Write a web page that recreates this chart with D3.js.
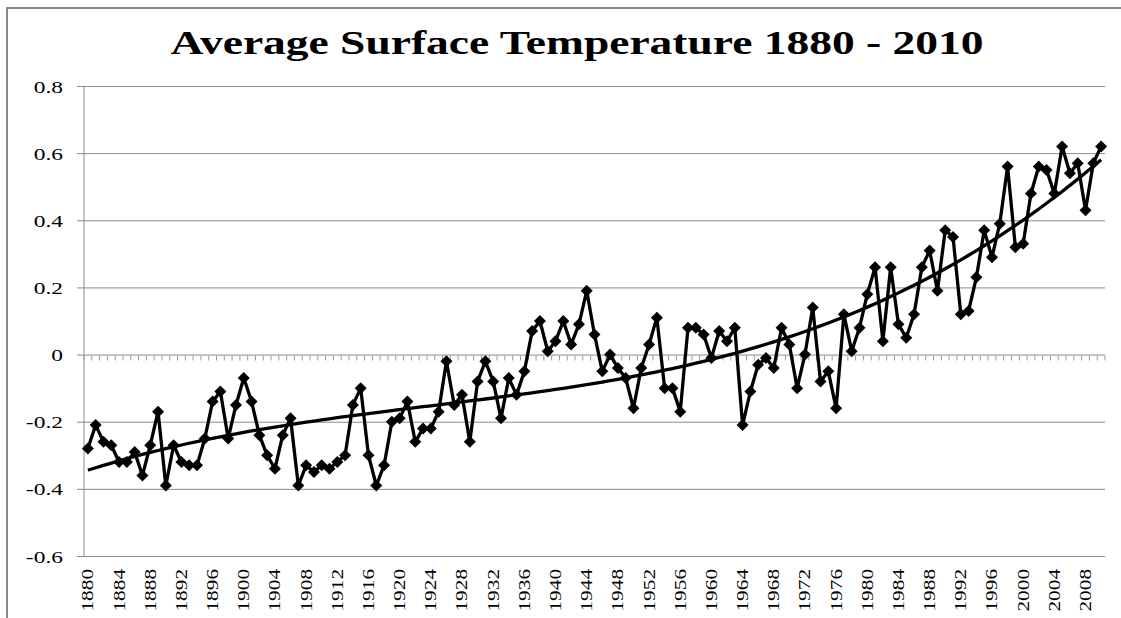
<!DOCTYPE html>
<html>
<head>
<meta charset="utf-8">
<script src="https://cdn.jsdelivr.net/npm/d3@7"></script>
<style>
  body { margin: 0; background: #fff; }
  svg text { font-family: "Liberation Serif", "Times New Roman", serif; fill: #000; }
</style>
</head>
<body>
<div id="chart"></div>
<script>
// yearly temperature anomaly
var years = d3.range(1880, 2011);
var anomaly = [
  -0.28, -0.21, -0.26, -0.27, -0.32, -0.32, -0.29, -0.36, -0.27, -0.17,
  -0.39, -0.27, -0.32, -0.33, -0.33, -0.25, -0.14, -0.11, -0.25, -0.15,
  -0.07, -0.14, -0.24, -0.30, -0.34, -0.24, -0.19, -0.39, -0.33, -0.35,
  -0.33, -0.34, -0.32, -0.30, -0.15, -0.10, -0.30, -0.39, -0.33, -0.20,
  -0.19, -0.14, -0.26, -0.22, -0.22, -0.17, -0.02, -0.15, -0.12, -0.26,
  -0.08, -0.02, -0.08, -0.19, -0.07, -0.12, -0.05, 0.07, 0.10, 0.01,
  0.04, 0.10, 0.03, 0.09, 0.19, 0.06, -0.05, 0.00, -0.04, -0.07,
  -0.16, -0.04, 0.03, 0.11, -0.10, -0.10, -0.17, 0.08, 0.08, 0.06,
  -0.01, 0.07, 0.04, 0.08, -0.21, -0.11, -0.03, -0.01, -0.04, 0.08,
  0.03, -0.10, 0.00, 0.14, -0.08, -0.05, -0.16, 0.12, 0.01, 0.08,
  0.18, 0.26, 0.04, 0.26, 0.09, 0.05, 0.12, 0.26, 0.31, 0.19,
  0.37, 0.35, 0.12, 0.13, 0.23, 0.37, 0.29, 0.39, 0.56, 0.32,
  0.33, 0.48, 0.56, 0.55, 0.48, 0.62, 0.54, 0.57, 0.43, 0.57,
  0.62
];
var yTicks = [-0.6, -0.4, -0.2, 0, 0.2, 0.4, 0.6, 0.8];
var yearLabels = years.filter(function(y) { return (y - 1880) % 4 === 0; });

var width = 1121, height = 618;
var plot = {left: 84, right: 1105, top: 86, bottom: 556};
var gridColor = '#8c8c8c';

var svg = d3.select('#chart').append('svg')
    .attr('width', width)
    .attr('height', height);

// widen a text run along its own direction (the picture's text is drawn wide)
function widen(sel, k) {
  sel.each(function() {
    var len = this.getComputedTextLength();
    d3.select(this)
      .attr('textLength', len * k)
      .attr('lengthAdjust', 'spacingAndGlyphs');
  });
}

// outer frame (only top and left edges visible in the picture)
svg.append('path')
    .attr('d', 'M7,' + height + 'V8H' + width)
    .attr('fill', 'none')
    .attr('stroke', '#8a8a8a')
    .attr('stroke-width', 2);

var x = d3.scaleBand().domain(years).range([plot.left, plot.right]);
var y = d3.scaleLinear().domain([-0.6, 0.8]).range([plot.bottom, plot.top]);
var cx = function(yr) { return x(yr) + x.bandwidth() / 2; };

// horizontal gridlines + y labels
var yAxis = d3.axisLeft(y)
    .tickValues(yTicks)
    .tickSize(-(plot.right - plot.left))
    .tickPadding(21)
    .tickFormat(function(d) { return d === 0 ? '0' : d.toFixed(1); });

var gy = svg.append('g')
    .attr('transform', 'translate(' + plot.left + ',0)')
    .call(yAxis);
gy.select('.domain').remove();
gy.selectAll('.tick line')
    .attr('x1', -7)
    .attr('stroke', gridColor);
gy.selectAll('.tick text')
    .attr('dy', '0.36em')
    .style('font-family', '"Liberation Serif", serif')
    .style('font-size', '17px')
    .call(widen, 1.38);

// vertical axis line
svg.append('line')
    .attr('x1', plot.left).attr('x2', plot.left)
    .attr('y1', plot.top).attr('y2', plot.bottom)
    .attr('stroke', gridColor);

// category axis crossing at zero, with tick marks between categories
var zeroY = Math.round(y(0)) + 0.5;
var bounds = years.map(function(yr) { return x(yr); }).concat([plot.right]);
svg.append('g').selectAll('line').data(bounds)
  .enter().append('line')
    .attr('x1', function(d) { return d; })
    .attr('x2', function(d) { return d; })
    .attr('y1', zeroY)
    .attr('y2', zeroY + 5)
    .attr('stroke', '#999');

// rotated year labels under the plot
svg.append('g').selectAll('text').data(yearLabels)
  .enter().append('text')
    .attr('transform', function(d) { return 'translate(' + cx(d) + ',' + (plot.bottom + 13) + ') rotate(-90)'; })
    .attr('dy', '0.34em')
    .attr('text-anchor', 'end')
    .style('font-family', '"Liberation Serif", serif')
    .style('font-size', '16px')
    .text(function(d) { return d; })
    .call(widen, 1.33);

// polynomial (order 3) least-squares trend, as the spreadsheet trendline does
function polyFit(xs, ys, order) {
  var n = order + 1, A = [], i, j, k;
  for (i = 0; i < n; i++) { A.push(new Array(n + 1).fill(0)); }
  xs.forEach(function(xv, p) {
    for (i = 0; i < n; i++) {
      for (j = 0; j < n; j++) A[i][j] += Math.pow(xv, i + j);
      A[i][n] += Math.pow(xv, i) * ys[p];
    }
  });
  for (i = 0; i < n; i++) {
    var piv = i;
    for (k = i + 1; k < n; k++) if (Math.abs(A[k][i]) > Math.abs(A[piv][i])) piv = k;
    var tmp = A[i]; A[i] = A[piv]; A[piv] = tmp;
    for (k = i + 1; k < n; k++) {
      var f = A[k][i] / A[i][i];
      for (j = i; j <= n; j++) A[k][j] -= f * A[i][j];
    }
  }
  var c = new Array(n).fill(0);
  for (i = n - 1; i >= 0; i--) {
    var s = A[i][n];
    for (j = i + 1; j < n; j++) s -= A[i][j] * c[j];
    c[i] = s / A[i][i];
  }
  return function(xv) { return c.reduce(function(acc, ci, idx) { return acc + ci * Math.pow(xv, idx); }, 0); };
}
var norm = function(yr) { return (yr - 1945) / 65; };
var trend = polyFit(years.map(norm), anomaly, 3);

var points = years.map(function(yr, i) { return {year: yr, value: anomaly[i]}; });

// data line
svg.append('path')
    .datum(points)
    .attr('fill', 'none')
    .attr('stroke', '#000')
    .attr('stroke-width', 3.3)
    .attr('stroke-linejoin', 'round')
    .attr('d', d3.line()
        .x(function(d) { return cx(d.year); })
        .y(function(d) { return y(d.value); }));

// diamond markers
var r = 6;
var diamond = 'M0,' + (-r) + 'L' + r + ',0L0,' + r + 'L' + (-r) + ',0Z';
svg.append('g').selectAll('path').data(points)
  .enter().append('path')
    .attr('transform', function(d) { return 'translate(' + cx(d.year) + ',' + y(d.value) + ')'; })
    .attr('d', diamond)
    .attr('fill', '#000');

// trendline
svg.append('path')
    .datum(years)
    .attr('fill', 'none')
    .attr('stroke', '#000')
    .attr('stroke-width', 3.3)
    .attr('d', d3.line()
        .curve(d3.curveMonotoneX)
        .x(function(d) { return cx(d); })
        .y(function(d) { return y(trend(norm(d))); }));

// title
svg.append('text')
    .attr('x', 577)
    .attr('y', 54)
    .attr('text-anchor', 'middle')
    .attr('textLength', 813)
    .attr('lengthAdjust', 'spacingAndGlyphs')
    .style('font-family', '"Liberation Serif", serif')
    .style('font-size', '34px')
    .style('font-weight', 'bold')
    .text('Average Surface Temperature 1880 - 2010');
</script>
</body>
</html>
